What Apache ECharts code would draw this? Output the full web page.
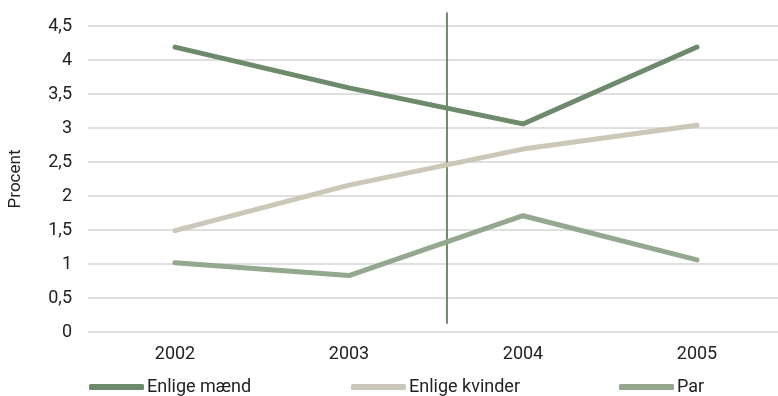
<!DOCTYPE html>
<html>
<head>
<meta charset="utf-8">
<script src="https://cdn.jsdelivr.net/npm/echarts@6/dist/echarts.min.js"></script>
<style>
  html, body { margin: 0; padding: 0; background: #fff; }
  #main { width: 778px; height: 396px; }
</style>
</head>
<body>
<div id="main"></div>
<script>
const years = ['2002', '2003', '2004', '2005'];
const enligeMaend = [4.19, 3.59, 3.06, 4.19];
const enligeKvinder = [1.49, 2.16, 2.69, 3.04];
const par = [1.02, 0.83, 1.71, 1.06];
// lodret markering mellem 2003 og 2004 (position på skjult værdiakse)
const markerX = 1.563;
const markerY = [0.12, 4.7];

const colors = ['#6e8a6c', '#cbc7b9', '#93a88e'];
const font = 'Roboto';

const chart = echarts.init(document.getElementById('main'));

function lineSeries(name, data, color) {
  return {
    name: name,
    type: 'line',
    data: data,
    symbol: 'none',
    lineStyle: { width: 5, color: color, cap: 'round', join: 'round' },
    itemStyle: { color: color },
    emphasis: { disabled: true }
  };
}

function legendItem(name, left) {
  return {
    data: [name],
    left: left,
    top: 378,
    icon: 'roundRect',
    itemWidth: 55,
    itemHeight: 6,
    itemGap: 0,
    padding: 0,
    textStyle: { fontFamily: font, fontSize: 18, color: '#222', padding: [6, 0, 0, -2] }
  };
}

const option = {
  animation: false,
  color: colors,
  grid: { left: 88, width: 696, top: 26, bottom: 64, outerBoundsMode: 'none' },
  legend: [
    legendItem('Enlige mænd', 89),
    legendItem('Enlige kvinder', 351),
    legendItem('Par', 619)
  ],
  xAxis: [{
    type: 'category',
    data: years,
    boundaryGap: true,
    axisLine: { show: false },
    axisTick: { show: false },
    axisLabel: { fontFamily: font, fontSize: 18, color: '#222', margin: 13 }
  }, {
    type: 'value',
    min: -0.5,
    max: 3.5,
    show: false
  }],
  yAxis: {
    type: 'value',
    min: 0,
    max: 4.5,
    interval: 0.5,
    name: 'Procent',
    nameLocation: 'middle',
    nameGap: 64,
    nameTextStyle: { fontFamily: font, fontSize: 17, color: '#222' },
    axisLine: { show: false },
    axisTick: { show: false },
    axisLabel: {
      fontFamily: font, fontSize: 18, color: '#222', margin: 16,
      formatter: v => String(v).replace('.', ',')
    },
    splitLine: { lineStyle: { color: '#d4d4d4', width: 1.5 } }
  },
  series: [
    lineSeries('Enlige mænd', enligeMaend, colors[0]),
    lineSeries('Enlige kvinder', enligeKvinder, colors[1]),
    lineSeries('Par', par, colors[2]),
    {
      name: 'markering',
      type: 'line',
      xAxisIndex: 1,
      data: markerY.map(y => [markerX, y]),
      symbol: 'none',
      clip: false,
      lineStyle: { width: 2, color: '#6e8a6c' },
      emphasis: { disabled: true },
      z: 1
    }
  ]
};
chart.setOption(option);
</script>
</body>
</html>
